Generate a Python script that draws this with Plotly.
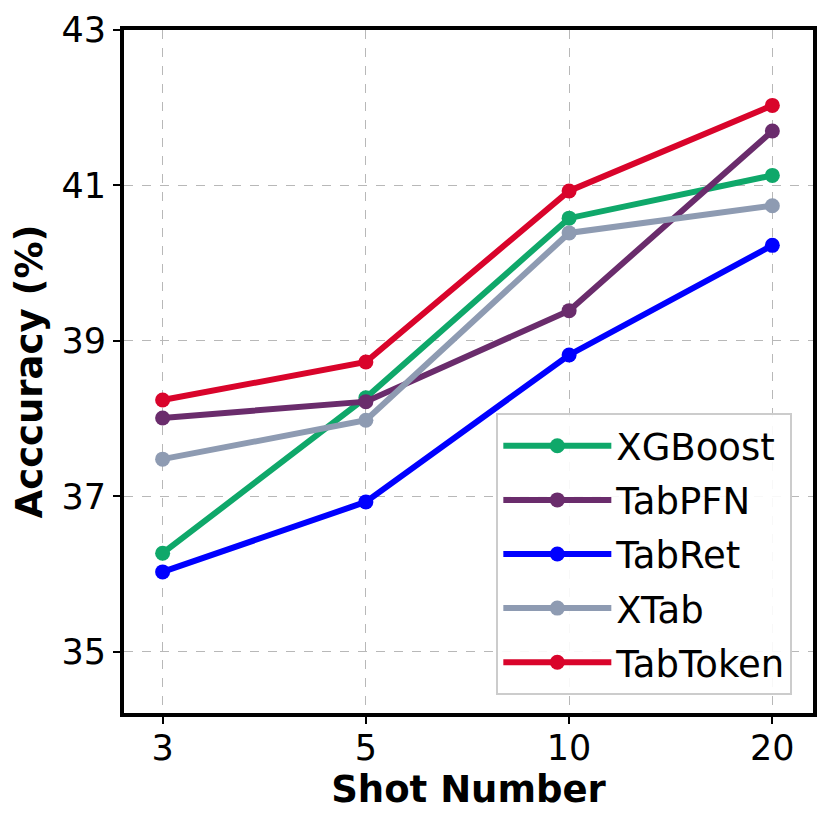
import plotly.graph_objects as go

# Few-shot accuracy by number of shots
shots = ['3', '5', '10', '20']

xgboost = [36.27, 38.27, 40.58, 41.13]
tabpfn = [38.01, 38.22, 39.39, 41.70]
tabret = [36.03, 36.93, 38.82, 40.23]
xtab = [37.48, 37.98, 40.39, 40.74]
tabtoken = [38.24, 38.73, 40.93, 42.03]

series = [
    ('XGBoost', xgboost, '#0fa86a'),
    ('TabPFN', tabpfn, '#6a2c6c'),
    ('TabRet', tabret, '#0000ff'),
    ('XTab', xtab, '#8e9bb2'),
    ('TabToken', tabtoken, '#d9042b'),
]

fig = go.Figure()
for name, vals, color in series:
    fig.add_trace(go.Scatter(x=shots, y=vals, name=name, mode='lines+markers',
                             legendgroup=name,
                             line=dict(color=color, width=6),
                             marker=dict(color=color, size=15)))

axis_style = dict(showline=True, mirror=True, linewidth=4, linecolor='black',
                  ticks='outside', ticklen=7, tickwidth=1.5, tickcolor='black',
                  showgrid=True, gridcolor='#b8b8b8', gridwidth=1, griddash='dash',
                  zeroline=False, automargin=False,
                  tickfont=dict(size=35, color='black'))

fig.update_xaxes(**axis_style, type='category', range=[-0.19, 3.2], ticklabelstandoff=-6,
                 title=dict(text='<b>Shot Number</b>', font=dict(size=37, color='black'), standoff=4))
fig.update_yaxes(**axis_style, range=[34.215, 43], tickvals=[35, 37, 39, 41, 43],
                 title=dict(text='<b>Acccuracy (%)</b>', font=dict(size=37, color='black'), standoff=11))

# page body adds an 8px offset, so margins are shifted by that amount
fig.update_layout(
    width=830, height=828,
    margin=dict(l=116, r=25, t=22, b=123),
    plot_bgcolor='white', paper_bgcolor='white',
    font=dict(family='DejaVu Sans', color='black'),
    legend=dict(x=0.97, y=0.026, xanchor='right', yanchor='bottom',
                font=dict(size=37), bgcolor='rgba(255,255,255,0.9)',
                bordercolor='#cccccc', borderwidth=2, itemwidth=108,
                tracegroupgap=3),
)

fig.write_html("out.html")
